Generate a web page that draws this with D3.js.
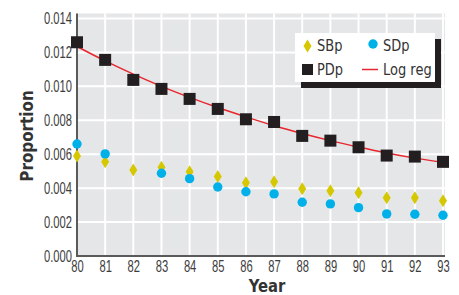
<!DOCTYPE html>
<meta charset="utf-8">
<title>Proportion by year</title>
<body>
<script src="https://cdn.jsdelivr.net/npm/d3@7"></script>
<style>
html, body {
    margin: 0;
    background: #fff;
}
svg {
    display: block;
    font-family: "DejaVu Sans", sans-serif;
}
.tick text {
    fill: #3d3d3d;
    font-size: 16px;
}
</style>
<script>
var years = [80, 81, 82, 83, 84, 85, 86, 87, 88, 89, 90, 91, 92, 93];

var pdp = [0.0126, 0.01156, 0.01038, 0.00985, 0.00926, 0.00867, 0.00806,
           0.0079, 0.00708, 0.0068, 0.00641, 0.00592, 0.00586, 0.00555];
var sbp = [0.0059, 0.00555, 0.00507, 0.00523, 0.00496, 0.00468, 0.00432,
           0.00437, 0.00397, 0.00385, 0.00373, 0.00344, 0.00344, 0.00326];
// no SDp value shown for 82
var sdp = [0.0066, 0.00602, null, 0.00488, 0.00456, 0.00407, 0.00379,
           0.00366, 0.00317, 0.00307, 0.00285, 0.00248, 0.00246, 0.0024];
var logreg = [0.01235, 0.0115, 0.01072, 0.01, 0.00935, 0.00875, 0.0082,
              0.00768, 0.00722, 0.0068, 0.00642, 0.00607, 0.00577, 0.00552];

var yTicks = [0, 0.002, 0.004, 0.006, 0.008, 0.010, 0.012, 0.014];

var width = 459,
    height = 295,
    plotLeft = 77,
    plotRight = 443,
    plotTop = 18.5,
    plotBottom = 256,
    narrow = 0.7;   // the original uses a condensed face

var x = d3.scaleLinear().domain([80, 93]).range([plotLeft, plotRight]);
var y = d3.scaleLinear().domain([0, 0.014]).range([plotBottom, plotTop]);

var svg = d3.select("body").append("svg")
    .attr("width", width)
    .attr("height", height);

// plot background
svg.append("rect")
    .attr("x", plotLeft)
    .attr("y", plotTop - 5)
    .attr("width", plotRight - plotLeft + 2)
    .attr("height", plotBottom - plotTop + 5)
    .attr("fill", "#e5e6e8");

// grid
svg.append("g")
    .selectAll("line")
    .data(yTicks.slice(1))
    .enter().append("line")
    .attr("x1", plotLeft).attr("x2", plotRight + 2)
    .attr("y1", function(d) { return y(d); })
    .attr("y2", function(d) { return y(d); })
    .attr("stroke", "#fff")
    .attr("stroke-width", 2);

svg.append("g")
    .selectAll("line")
    .data(years.slice(1))
    .enter().append("line")
    .attr("y1", plotTop - 5).attr("y2", plotBottom)
    .attr("x1", function(d) { return x(d); })
    .attr("x2", function(d) { return x(d); })
    .attr("stroke", "#fff")
    .attr("stroke-width", 2);

// axes
var xAxis = svg.append("g")
    .attr("transform", "translate(0," + plotBottom + ")")
    .call(d3.axisBottom(x).tickValues(years).tickSize(0).tickPadding(5)
        .tickFormat(function(d) { return d; }));
xAxis.select(".domain").remove();

var yAxis = svg.append("g")
    .attr("transform", "translate(" + (plotLeft - 1) + ",0)")
    .call(d3.axisLeft(y).tickValues(yTicks).tickSize(0).tickPadding(6)
        .tickFormat(d3.format(".3f")));
yAxis.select(".domain").remove();

svg.selectAll(".tick text").attr("transform", "scale(" + narrow + ",1)");
yAxis.selectAll(".tick text").attr("x", -4 / narrow);

svg.append("line")
    .attr("x1", plotLeft).attr("x2", plotLeft)
    .attr("y1", plotTop - 5).attr("y2", plotBottom + 1)
    .attr("stroke", "#5a5a5a").attr("stroke-width", 2);
svg.append("line")
    .attr("x1", plotLeft - 1).attr("x2", plotRight + 2)
    .attr("y1", plotBottom).attr("y2", plotBottom)
    .attr("stroke", "#5a5a5a").attr("stroke-width", 2);

// axis titles
svg.append("text")
    .attr("transform", "translate(" + 267 + ",292) scale(0.8,1)")
    .attr("text-anchor", "middle")
    .attr("font-weight", "bold")
    .attr("font-size", 18.5)
    .attr("fill", "#333")
    .text("Year");

svg.append("text")
    .attr("transform", "translate(33,136) rotate(-90) scale(0.82,1)")
    .attr("text-anchor", "middle")
    .attr("font-weight", "bold")
    .attr("font-size", 18.5)
    .attr("fill", "#333")
    .text("Proportion");

// regression line
var line = d3.line()
    .x(function(d, i) { return x(years[i]); })
    .y(function(d) { return y(d); })
    .curve(d3.curveMonotoneX);

svg.append("path")
    .datum(logreg)
    .attr("fill", "none")
    .attr("stroke", "#e8262d")
    .attr("stroke-width", 1.5)
    .attr("d", line);

var diamond = "M0,-6.5L4,0L0,6.5L-4,0Z";

svg.append("g")
    .selectAll("path")
    .data(sbp)
    .enter().append("path")
    .attr("d", diamond)
    .attr("fill", "#d6c800")
    .attr("transform", function(d, i) { return "translate(" + x(years[i]) + "," + y(d) + ")"; });

svg.append("g")
    .selectAll("circle")
    .data(sdp.map(function(d, i) { return { year: years[i], v: d }; })
        .filter(function(d) { return d.v !== null; }))
    .enter().append("circle")
    .attr("cx", function(d) { return x(d.year); })
    .attr("cy", function(d) { return y(d.v); })
    .attr("r", 4.7)
    .attr("fill", "#00b1e9");

svg.append("g")
    .selectAll("rect")
    .data(pdp)
    .enter().append("rect")
    .attr("x", function(d, i) { return x(years[i]) - 6; })
    .attr("y", function(d) { return y(d) - 6; })
    .attr("width", 12)
    .attr("height", 12)
    .attr("fill", "#231f20");

// legend
var lg = svg.append("g").attr("transform", "translate(295,33)");
lg.append("rect")
    .attr("x", 6).attr("y", 6)
    .attr("width", 140).attr("height", 49)
    .attr("fill", "#231f20");
lg.append("rect")
    .attr("width", 140).attr("height", 49)
    .attr("fill", "#fff");

lg.append("path")
    .attr("d", diamond)
    .attr("fill", "#d6c800")
    .attr("transform", "translate(12.5,13)");
lg.append("circle")
    .attr("cx", 78).attr("cy", 11).attr("r", 4.7)
    .attr("fill", "#00b1e9");
lg.append("rect")
    .attr("x", 7).attr("y", 31).attr("width", 11).attr("height", 11)
    .attr("fill", "#231f20");
lg.append("line")
    .attr("x1", 67).attr("x2", 83).attr("y1", 36.5).attr("y2", 36.5)
    .attr("stroke", "#e8262d").attr("stroke-width", 1.5);

var labels = [["SBp", 22, 18], ["SDp", 88, 18], ["PDp", 22, 42], ["Log reg", 88, 42]];
lg.selectAll("text")
    .data(labels)
    .enter().append("text")
    .attr("transform", function(d) { return "translate(" + d[1] + "," + d[2] + ") scale(0.84,1)"; })
    .attr("font-size", 15.5)
    .attr("fill", "#333")
    .text(function(d) { return d[0]; });
</script>
